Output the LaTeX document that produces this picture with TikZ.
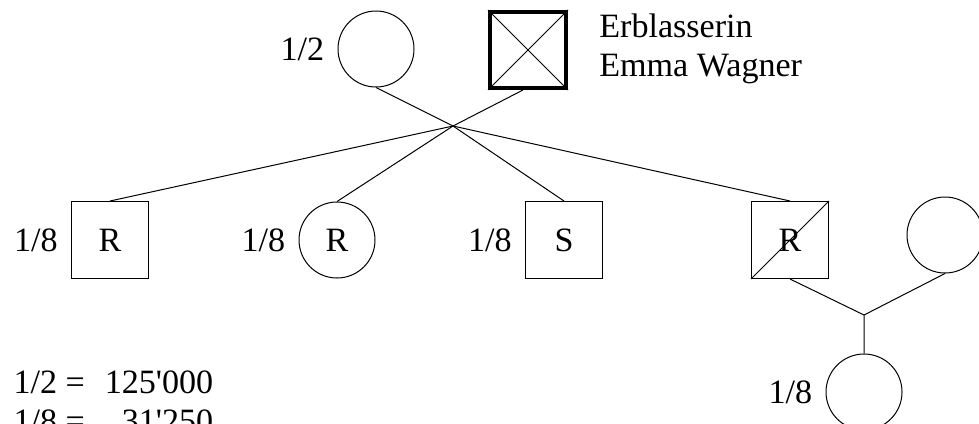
\documentclass[tikz,border=0pt]{standalone}
\usepackage{fontspec}
\setmainfont{Liberation Serif}[Ligatures=TeXOff]
\usetikzlibrary{positioning}

\begin{document}
\begin{tikzpicture}[
			x = 0.2mm, y = -0.2mm,
			line width = 0.2mm,
			every node/.style = {font = \fontsize{19.4}{22}\selectfont},
			person/.style = {draw, minimum size = 15.4mm, inner sep = 0},
			female/.style = {draw, circle, minimum size = 15.2mm, inner sep = 0},
			share/.style = {label = {[label distance = 1.4mm]left:#1}}
		]
			\useasboundingbox (0,0) rectangle (979,423);

			% Erblasserin und Ehemann
			\node[female, share=1/2] (mother) at (376,49) {};
			\node[person, minimum size = 15.2mm, line width = 0.8mm] (erb) at (528,50) {};
			\draw (erb.north west) -- (erb.south east) (erb.north east) -- (erb.south west);
			\node[anchor = west, align = left] (name) at (593,49) {Erblasserin\\Emma Wagner};

			\coordinate (j1) at (453,126);
			\draw (mother.south) -- (j1) ([xshift=-1mm]erb.south) -- (j1);

			% Kinder
			\node[person, share=1/8] (r1) at (110,240) {R};
			\node[female, share=1/8] (r2) at (337,240) {R};
			\node[person, share=1/8] (s) at (564,240) {S};
			\node[person] (r3) at (790,240) {R};
			\draw (r3.south west) -- (r3.north east);

			\foreach \kid in {r1,r2,s,r3}
				\draw (j1) -- (\kid.north);

			% Ehefrau und Enkelin
			\node[female] (spouse) at (945,235) {};
			\coordinate (j2) at (864,315);
			\node[female, share=1/8] (grand) at (864,392) {};
			\draw (r3.south) -- (j2) -- (spouse.south) (j2) -- (grand.north);

			\node[anchor = north west, inner sep = 0] (calc) at (13,366) {%
				\begin{tabular}{@{}l@{\hspace{4mm}}r@{}}
					1/2 = & 125'000\\
					1/8 = & 31'250
				\end{tabular}};

		\end{tikzpicture}
\end{document}
